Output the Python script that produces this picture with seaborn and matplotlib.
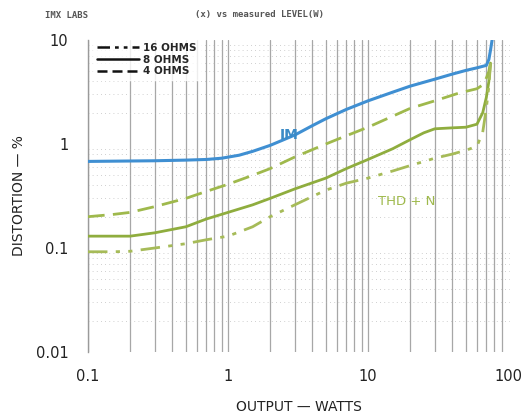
import numpy as np
import pandas as pd
import matplotlib
matplotlib.use("Agg")
import matplotlib.pyplot as plt
from matplotlib.lines import Line2D
import seaborn as sns

# ---- data ----
im_watts = [0.1, 0.3, 0.5, 0.7, 0.9, 1.2, 1.5, 2, 2.5, 3, 4, 5, 7, 10, 15, 20, 30, 40, 50, 60, 70, 73, 75, 77]
im_pct = [0.68, 0.69, 0.70, 0.71, 0.73, 0.78, 0.85, 0.97, 1.1, 1.22, 1.5, 1.75, 2.15, 2.6, 3.15, 3.6, 4.2, 4.7, 5.1, 5.4, 5.7, 6.5, 8.0, 10.0]

thd4_watts = [0.1, 0.15, 0.2, 0.3, 0.5, 0.7, 1, 1.5, 2, 3, 5, 7, 10, 15, 20, 30, 45, 60, 66, 70, 73, 75]
thd4_pct = [0.20, 0.21, 0.22, 0.25, 0.30, 0.35, 0.41, 0.50, 0.58, 0.75, 1.0, 1.2, 1.45, 1.85, 2.2, 2.6, 3.1, 3.4, 3.7, 4.3, 5.0, 6.0]

thd8_watts = [0.1, 0.15, 0.2, 0.3, 0.5, 0.7, 1, 1.5, 2, 3, 5, 7, 10, 15, 20, 25, 30, 40, 50, 60, 66, 70, 73, 75]
thd8_pct = [0.13, 0.13, 0.13, 0.14, 0.16, 0.19, 0.22, 0.26, 0.30, 0.37, 0.47, 0.58, 0.71, 0.90, 1.1, 1.28, 1.4, 1.43, 1.45, 1.55, 2.0, 2.8, 4.0, 6.0]

thd16_watts = [0.1, 0.15, 0.2, 0.3, 0.5, 0.7, 1, 1.5, 2, 3, 5, 7, 10, 15, 20, 30, 40, 50, 60, 66, 70, 73, 75]
thd16_pct = [0.092, 0.092, 0.093, 0.10, 0.11, 0.12, 0.13, 0.16, 0.20, 0.26, 0.36, 0.42, 0.47, 0.55, 0.62, 0.73, 0.80, 0.87, 0.95, 1.3, 2.2, 3.6, 6.0]

x_ticks = [0.1, 1, 10, 100]
x_ticklabels = ["0.1", "1", "10", "100"]
y_ticks = [0.01, 0.1, 1, 10]
y_ticklabels = ["0.01", "0.1", "1", "10"]
legend_labels = ["16 OHMS", "8 OHMS", "4 OHMS"]

sns.set_theme(style="white")
plt.rcParams["font.family"] = ["DejaVu Sans"]

W, H = 526, 416
fig = plt.figure(figsize=(W / 100, H / 100), dpi=100)
L, R, T, B = 88, 510, 40, 352
ax = fig.add_axes([L / W, (H - B) / H, (R - L) / W, (B - T) / H])
ax.set_xscale("log")
ax.set_yscale("log")
ax.set_xlim(0.1, 10 ** (-1 + (R - L) / 140))
ax.set_ylim(0.01, 10)

# grid imitation (scanned log paper)
for d in [0.1, 1, 10]:
    for m in range(1, 10):
        v = d * m
        if v <= 100:
            ax.axvline(v, color="#8a8a8a", lw=0.9, alpha=0.75, zorder=0)
for d in [0.01, 0.1, 1]:
    for m in range(2, 10):
        ax.axhline(d * m, color="#b0b0b0", lw=0.6, ls=(0, (1, 4)), alpha=0.8, zorder=0)

ax.axvline(105, color="#8a8a8a", lw=0.9, alpha=0.75, zorder=0)

df_im = pd.DataFrame({"w": im_watts, "p": im_pct})
df4 = pd.DataFrame({"w": thd4_watts, "p": thd4_pct})
df8 = pd.DataFrame({"w": thd8_watts, "p": thd8_pct})
df16 = pd.DataFrame({"w": thd16_watts, "p": thd16_pct})

sns.lineplot(data=df_im, x="w", y="p", ax=ax, color="#3f8fd2", lw=2.2, zorder=3)
sns.lineplot(data=df4, x="w", y="p", ax=ax, color="#9fb94c", lw=2.0, zorder=3,
             linestyle=(0, (6, 3)))
sns.lineplot(data=df8, x="w", y="p", ax=ax, color="#8fad3e", lw=2.0, zorder=3)
sns.lineplot(data=df16, x="w", y="p", ax=ax, color="#a6bb58", lw=2.0, zorder=3,
             linestyle=(0, (7, 3, 1.5, 3, 1.5, 3)))

for s in ["top", "right", "bottom"]:
    ax.spines[s].set_visible(False)
ax.spines["left"].set_color("#9a9a9a")
ax.spines["left"].set_linewidth(1.0)

ax.set_xticks(x_ticks)
ax.set_xticklabels(x_ticklabels)
ax.set_yticks(y_ticks)
ax.set_yticklabels(y_ticklabels)
ax.minorticks_off()
ax.tick_params(axis="both", length=0, labelsize=10.5, colors="#222222")
ax.tick_params(axis="x", pad=12)
ax.tick_params(axis="y", pad=14)
ax.set_xlabel("OUTPUT — WATTS", fontsize=10, color="#222222", labelpad=12)
ax.set_ylabel("DISTORTION — %", fontsize=10, color="#222222", labelpad=7)

ax.text(2.75, 1.05, "IM", color="#3a8ac6", fontsize=10, fontweight="bold", ha="center", va="bottom")
ax.text(19, 0.28, "THD + N", color="#9fb94c", fontsize=9.5, ha="center", va="center")

handles = [Line2D([], [], color="#111111", lw=1.8, ls=(0, (5, 2, 1.5, 2, 1.5, 2))),
           Line2D([], [], color="#111111", lw=1.8),
           Line2D([], [], color="#111111", lw=1.8, ls=(0, (4, 2)))]
leg = ax.legend(handles, legend_labels, loc="upper left", bbox_to_anchor=(0.0, 1.02),
                frameon=True, fontsize=7.5, handlelength=4, labelspacing=0.15,
                borderpad=0.4, handletextpad=0.4)
leg.get_frame().set_facecolor("white")
leg.get_frame().set_edgecolor("white")
for t in leg.get_texts():
    t.set_fontweight("bold")

fig.text(45 / W, 1 - 15 / H, "IMX LABS", fontsize=6.5, fontweight="bold", color="#555555",
         family="DejaVu Sans Mono", va="center")
fig.text(195 / W, 1 - 15 / H, "(x) vs measured LEVEL(W)", fontsize=6.5, fontweight="bold",
         color="#555555", family="DejaVu Sans Mono", va="center")

fig.savefig("out.png", dpi=100, facecolor="white")
